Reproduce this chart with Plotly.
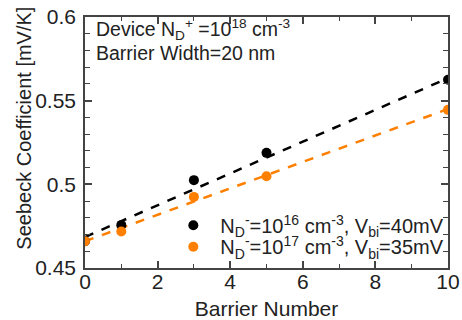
import plotly.graph_objects as go

barrier = [0, 1, 3, 5, 10]
s_1e16 = [0.466, 0.4756, 0.5025, 0.5188, 0.5625]
s_1e17 = [0.466, 0.4718, 0.4925, 0.5048, 0.5445]
fit_x = [0, 10]
fit_1e16 = [0.4685, 0.5635]
fit_1e17 = [0.4660, 0.5450]

black = "#000000"
orange = "#ff8000"
txt = "#222222"
font = "Liberation Sans, Arial, sans-serif"

fig = go.Figure()
fig.add_trace(go.Scatter(x=fit_x, y=fit_1e16, mode="lines",
                         line=dict(color=black, width=2.5, dash="dash"), showlegend=False))
fig.add_trace(go.Scatter(x=fit_x, y=fit_1e17, mode="lines",
                         line=dict(color=orange, width=2.5, dash="dash"), showlegend=False))
fig.add_trace(go.Scatter(x=barrier, y=s_1e16, mode="markers",
                         marker=dict(color=black, size=10), legend="legend",
                         name="N<sub>D</sub><sup>-</sup>=10<sup>16</sup> cm<sup>-3</sup>, V<sub>bi</sub>=40mV"))
fig.add_trace(go.Scatter(x=barrier, y=s_1e17, mode="markers",
                         marker=dict(color=orange, size=10), legend="legend2",
                         name="N<sub>D</sub><sup>-</sup>=10<sup>17</sup> cm<sup>-3</sup>, V<sub>bi</sub>=35mV"))

axis_common = dict(showline=True, linecolor="#444444", linewidth=1.5, mirror="allticks",
                   ticks="inside", ticklen=7, tickcolor="#444444", tickwidth=1.5,
                   showgrid=False, zeroline=False, automargin=False,
                   tickfont=dict(size=21, color=txt, family=font))

fig.update_xaxes(range=[0, 10], dtick=2,
                 minor=dict(ticks="inside", ticklen=4, tickcolor="#444444", tickwidth=1.2, dtick=1),
                 title=dict(text="Barrier Number", font=dict(size=21, color=txt, family=font), standoff=10),
                 ticklabelstandoff=-6,
                 **axis_common)
fig.update_yaxes(range=[0.45, 0.6], dtick=0.05, tickformat="~g",
                 minor=dict(ticks="inside", ticklen=5, tickcolor="#444444", tickwidth=1.2, dtick=0.01),
                 ticklabelstandoff=3,
                 **axis_common)

# y-axis title as annotation (positioned like the reference)
fig.add_annotation(xref="paper", yref="paper", x=0, y=0.555, xanchor="center", yanchor="middle",
                   xshift=-61, textangle=-90, showarrow=False,
                   text="Seebeck Coefficient [mV/K]",
                   font=dict(size=20, color=txt, family=font))

fig.add_annotation(xref="paper", yref="paper", x=0.025, y=0.95, xanchor="left", yanchor="middle",
                   showarrow=False, align="left",
                   text="Device N<sub>D</sub><sup>+</sup> =10<sup>18</sup> cm<sup>-3</sup>",
                   font=dict(size=19.5, color=txt, family=font))
fig.add_annotation(xref="paper", yref="paper", x=0.025, y=0.855, xanchor="left", yanchor="middle",
                   showarrow=False, align="left",
                   text="Barrier Width=20 nm",
                   font=dict(size=19.5, color=txt, family=font))

legend_style = dict(xanchor="left", yanchor="middle", bgcolor="rgba(0,0,0,0)",
                    font=dict(size=20, family=font, color=txt), itemwidth=44,
                    borderwidth=0)

fig.update_layout(width=462, height=320,
                  margin=dict(l=85, r=14, t=17, b=52, autoexpand=False),
                  paper_bgcolor="white", plot_bgcolor="white",
                  font=dict(family=font, color=txt),
                  legend=dict(x=0.224, y=0.17, **legend_style),
                  legend2=dict(x=0.224, y=0.085, **legend_style))

fig.write_html("out.html", config={"displayModeBar": False},
               post_script="document.body.style.margin='0';document.body.style.padding='0';")
